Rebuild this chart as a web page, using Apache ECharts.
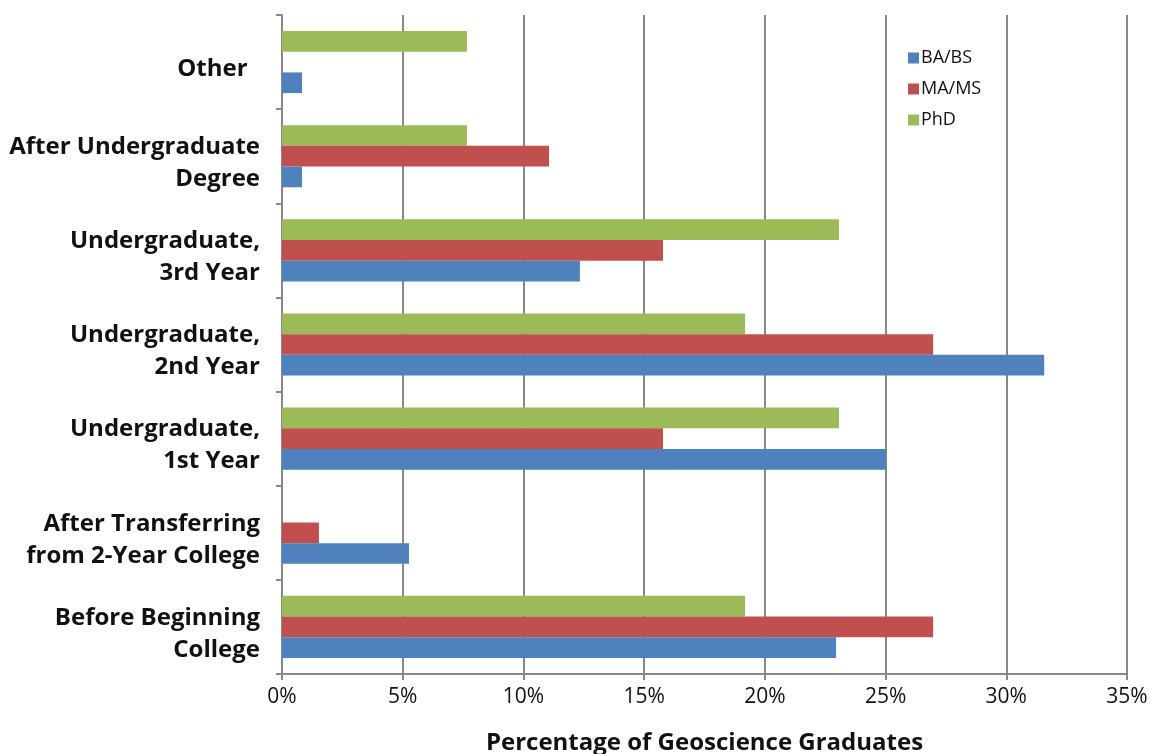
<!DOCTYPE html>
<html>
<head>
<meta charset="utf-8">
<script src="https://cdn.jsdelivr.net/npm/echarts@6/dist/echarts.min.js"></script>
<style>html,body{margin:0;padding:0;background:#fff}#c{width:1157px;height:754px}</style>
</head>
<body>
<div id="c"></div>
<script>
const categories = ['Before Beginning\nCollege', 'After Transferring\nfrom 2-Year College', 'Undergraduate,\n1st Year', 'Undergraduate,\n2nd Year', 'Undergraduate,\n3rd Year', 'After Undergraduate\nDegree', 'Other  '];
const baBs = [22.95, 5.26, 25.02, 31.57, 12.34, 0.83, 0.83];
const maMs = [26.97, 1.53, 15.78, 26.97, 15.78, 11.06, 0];
const phd = [19.18, 0, 23.07, 19.18, 23.07, 7.66, 7.66];
const xTicks = {min: 0, max: 35, interval: 5};

const chart = echarts.init(document.getElementById('c'));
const font = '"Open Sans", "Noto Sans", sans-serif';
chart.setOption({
  animation: false,
  textStyle: {fontFamily: font},
  grid: {left: 282, right: 30, top: 15, bottom: 80, containLabel: false, outerBoundsMode: 'none'},
  legend: {
    orient: 'vertical', left: 903, top: 44, itemWidth: 11, itemHeight: 11, itemGap: 13,
    icon: 'rect',
    textStyle: {fontSize: 18, color: '#111', fontFamily: font, padding: [0, 0, 0, -3]},
    data: ['BA/BS', 'MA/MS', 'PhD']
  },
  xAxis: {
    type: 'value', min: xTicks.min, max: xTicks.max, interval: xTicks.interval,
    name: 'Percentage of Geoscience Graduates', nameLocation: 'middle', nameGap: 57,
    nameTextStyle: {fontSize: 24, fontWeight: 'bold', color: '#111', fontFamily: font},
    axisLine: {show: true, lineStyle: {color: '#888', width: 2}},
    axisTick: {show: true, length: 6, lineStyle: {color: '#888', width: 2}},
    axisLabel: {formatter: '{value}%', fontSize: 21, color: '#111', margin: 13, fontFamily: font},
    splitLine: {show: true, lineStyle: {color: '#888', width: 2}}
  },
  yAxis: {
    type: 'category', data: categories,
    axisLine: {show: true, lineStyle: {color: '#888', width: 2}},
    axisTick: {show: true, length: 6, lineStyle: {color: '#888', width: 2}},
    axisLabel: {
      margin: 22, align: 'right',
      formatter: v => '{s| }\n' + v.split('\n').map(l => '{b|' + l + '}').join('\n'),
      rich: {
        s: {fontSize: 1, lineHeight: 14},
        b: {fontSize: 24, fontWeight: 'bold', color: '#111', lineHeight: 32, fontFamily: font, align: 'right'}
      }
    }
  },
  series: [
    {name: 'PhD', type: 'bar', data: phd, itemStyle: {color: '#9BBB59'}, barGap: '0%', barCategoryGap: '34%'},
    {name: 'MA/MS', type: 'bar', data: maMs, itemStyle: {color: '#C0504D'}, barGap: '0%', barCategoryGap: '34%'},
    {name: 'BA/BS', type: 'bar', data: baBs, itemStyle: {color: '#4F81BD'}, barGap: '0%', barCategoryGap: '34%'}
  ]
});
</script>
</body>
</html>
